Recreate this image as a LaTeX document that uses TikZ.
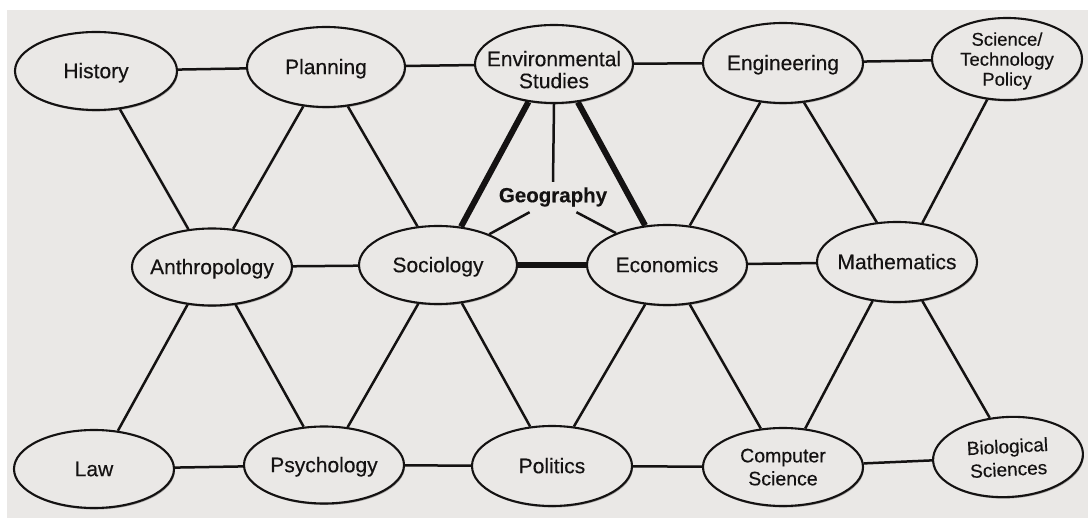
\documentclass[tikz,border=0pt]{standalone}
\usepackage{fontspec}
\setmainfont{Liberation Sans}[FakeBold=0.35]
\usetikzlibrary{shapes.geometric,shadows}
\definecolor{paper}{HTML}{EAE8E6}
\definecolor{ink}{HTML}{141212}
\newcommand{\ztxt}[2][0pt]{\makebox[0pt]{\raisebox{\dimexpr-0.38em-#1\relax}[0pt][0pt]{\begin{tabular}{@{}c@{}}#2\end{tabular}}}}
\begin{document}
\begin{tikzpicture}[x=1pt,y=-1pt,
  disc/.style={ellipse, draw=ink, line width=2.1pt, fill=paper, inner sep=0pt,
    text=ink, font=\fontsize{21}{22}\selectfont,
    drop shadow={shadow xshift=1pt, shadow yshift=-1.5pt, fill=black, opacity=0.3}},
  link/.style={draw=ink, line width=2.5pt},
  boldlink/.style={draw=ink, line width=6pt},
]
\fill[white] (0,0) rectangle (1092,518);
\useasboundingbox (0,0) rectangle (1092,518);
\fill[paper] (7,10) rectangle (1088,518);

% top row
\node[disc, minimum width=162pt, minimum height=78pt] (hist) at (96,71) {\ztxt{History}};
\node[disc, minimum width=158pt, minimum height=80pt] (plan) at (326,67) {\ztxt{Planning}};
\node[disc, minimum width=158pt, minimum height=78pt] (env) at (554,64) {\ztxt[6pt]{Environmental\\Studies}};
\node[disc, minimum width=160pt, minimum height=80pt] (eng) at (783,63) {\ztxt{Engineering}};
\node[disc, minimum width=150pt, minimum height=82pt, font=\fontsize{18.5}{20}\selectfont] (sci) at (1007,59) {\ztxt{Science/\\Technology\\Policy}};
% middle row
\node[disc, minimum width=160pt, minimum height=77pt] (anth) at (212,267) {\ztxt{Anthropology}};
\node[disc, minimum width=158pt, minimum height=78pt] (soc) at (438,265) {\ztxt{Sociology}};
\node[disc, minimum width=160pt, minimum height=80pt] (econ) at (667,265) {\ztxt{Economics}};
\node[disc, minimum width=160pt, minimum height=80pt] (math) at (897,262) {\ztxt{Mathematics}};
\node[inner sep=0pt, minimum width=110pt, minimum height=30pt, text=ink,
      font=\fontsize{20.5}{22}\selectfont\bfseries] (geo) at (553,197) {Geography};
% bottom row
\node[disc, minimum width=160pt, minimum height=78pt] (law) at (94,469) {\ztxt{Law}};
\node[disc, minimum width=160pt, minimum height=77pt] (psy) at (324,465) {\ztxt{Psychology}};
\node[disc, minimum width=160pt, minimum height=80pt] (pol) at (552,466) {\ztxt{Politics}};
\node[disc, minimum width=160pt, minimum height=78pt, font=\fontsize{19.5}{23}\selectfont] (cs) at (783,467) {\ztxt{Computer\\Science}};
\node[disc, minimum width=150pt, minimum height=80pt, rotate=3, font=\fontsize{19}{23}\selectfont] (bio) at (1008,457) {\ztxt{Biological\\Sciences}};

% horizontal links
\draw[link] (hist) -- (plan);
\draw[link] (plan) -- (env);
\draw[link] (env) -- (eng);
\draw[link] (eng) -- (sci);
\draw[link] (anth) -- (soc);
\draw[boldlink] (soc) -- (econ);
\draw[link] (econ) -- (math);
\draw[link] (law) -- (psy);
\draw[link] (psy) -- (pol);
\draw[link] (pol) -- (cs);
\draw[link] (cs) -- (bio);

% top to middle
\draw[link] (hist.-58) -- (anth.122);
\draw[link] (plan.-120) -- (anth.61);
\draw[link] (plan.-61) -- (soc.118);
\draw[boldlink] (env.-124) -- (soc.59);
\draw[boldlink] (env.-58) -- (econ.119);
\draw[link] (eng.-120) -- (econ.60);
\draw[link] (eng.-62) -- (math.117);
\draw[link] (sci.-116) -- (math.57);

% geography
\draw[link] (geo.north) -- (env.south);
\draw[link] (geo.-147) -- (soc.31);
\draw[link] (geo.-33) -- (econ.148);

% middle to bottom
\draw[link] (anth.-123) -- (law.58);
\draw[link] (anth.-58) -- (psy.118);
\draw[link] (soc.-117) -- (psy.58);
\draw[link] (soc.-58) -- (pol.119);
\draw[link] (econ.-119) -- (pol.61);
\draw[link] (econ.-60) -- (cs.120);
\draw[link] (math.-122) -- (cs.60);
\draw[link] (math.-57) -- (bio.112);
\end{tikzpicture}
\end{document}
